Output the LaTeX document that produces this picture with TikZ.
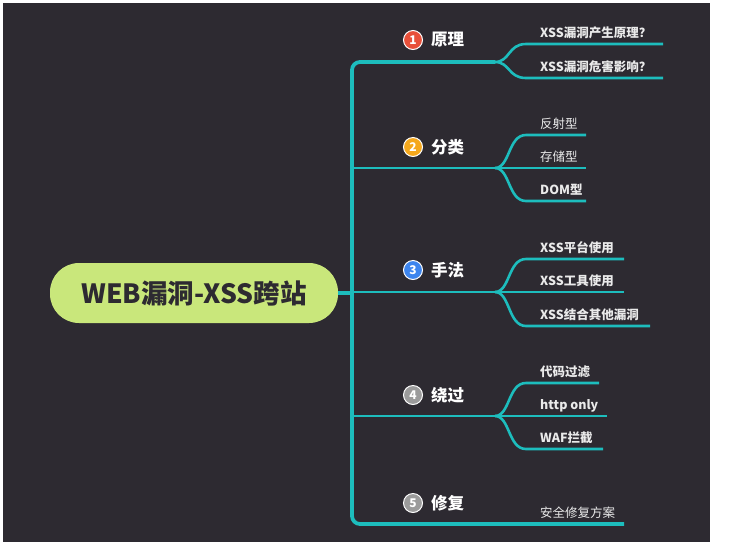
\documentclass[tikz,border=0pt]{standalone}
\usepackage{fontspec}
\setmainfont{Noto Sans CJK SC}
\definecolor{bg}{HTML}{2D2A31}
\definecolor{branch}{HTML}{1DBDBD}
\definecolor{pill}{HTML}{C9E77B}
\definecolor{numred}{HTML}{E8503A}
\definecolor{numorange}{HTML}{F5A81C}
\definecolor{numblue}{HTML}{3D85EE}
\definecolor{numgrey}{HTML}{9B9B9B}
\definecolor{subtext}{HTML}{EAEAEA}

\begin{document}
\begin{tikzpicture}[x=1pt,y=-1pt,
  trunk/.style={draw=branch,line width=3.8pt,rounded corners=8pt},
  twig/.style={draw=branch,line width=2.6pt},
  topic/.style={anchor=west,inner sep=0pt,text=white,font=\bfseries\fontsize{16.5}{16.5}\selectfont},
  num/.style={circle,draw=white,line width=1pt,minimum size=19pt,inner sep=0pt,
    text=white,font=\bfseries\fontsize{12}{12}\selectfont},
  leaf/.style={anchor=base west,inner sep=0pt,text=subtext,font=\fontsize{12.5}{12.5}\selectfont},
  bleaf/.style={leaf,font=\bfseries\fontsize{12.5}{12.5}\selectfont}]
\fill[white] (0,0) rectangle (752,542);
\fill[bg] (3,3) rectangle (710,542);

% central topic
\node[fill=pill,rounded corners=29pt,minimum width=288pt,minimum height=60pt,
  text=bg,font=\bfseries\fontsize{26.5}{26.5}\selectfont] (root) at (194,293) {WEB漏洞-XSS跨站};

% trunk
\coordinate (top) at (352,62);
\coordinate (bot) at (352,524);
\coordinate (s1) at (495,62);
\coordinate (s2) at (495,168);
\coordinate (s3) at (495,292);
\coordinate (s4) at (495,416);
\coordinate (e5) at (624,524);
\draw[trunk] (s1) -- (top) -- (bot) -- (e5);
\draw[trunk] (root.east) -- (root.east -| top);
\draw[twig] (s2 -| top) -- (s2);
\draw[twig] (s3 -| top) -- (s3);
\draw[twig] (s4 -| top) -- (s4);

% topics
\node[num,fill=numred] (n1) at (413,40) {1};
\node[topic] (b1) at (431,40) {原理};
\node[num,fill=numorange] (n2) at (413,147) {2};
\node[topic] (b2) at (431,147) {分类};
\node[num,fill=numblue] (n3) at (413,270) {3};
\node[topic] (b3) at (431,270) {手法};
\node[num,fill=numgrey] (n4) at (413,395) {4};
\node[topic] (b4) at (431,395) {绕过};
\node[num,fill=numgrey] (n5) at (413,503) {5};
\node[topic] (b5) at (431,503) {修复};

% 原理
\coordinate (e11) at (663,44);
\coordinate (e12) at (663,78);
\draw[twig] (s1) .. controls (510,62) and (508,44) .. (526,44) -- (e11);
\draw[twig] (s1) .. controls (510,62) and (508,78) .. (526,78) -- (e12);
\node[bleaf] (t11) at (540,37) {XSS漏洞产生原理？};
\node[bleaf] (t12) at (540,71) {XSS漏洞危害影响？};

% 分类
\coordinate (e21) at (586,135);
\coordinate (e22) at (586,168);
\coordinate (e23) at (586,201);
\draw[twig] (s2) .. controls (510,168) and (508,135) .. (526,135) -- (e21);
\draw[twig] (s2) -- (e22);
\draw[twig] (s2) .. controls (510,168) and (508,201) .. (526,201) -- (e23);
\node[leaf] (t21) at (540,128) {反射型};
\node[leaf] (t22) at (540,161) {存储型};
\node[bleaf] (t23) at (540,194) {DOM型};

% 手法
\coordinate (e31) at (624,259);
\coordinate (e32) at (624,292);
\coordinate (e33) at (650,326);
\draw[twig] (s3) .. controls (510,292) and (508,259) .. (526,259) -- (e31);
\draw[twig] (s3) -- (e32);
\draw[twig] (s3) .. controls (510,292) and (508,326) .. (526,326) -- (e33);
\node[bleaf] (t31) at (540,252) {XSS平台使用};
\node[bleaf] (t32) at (540,285) {XSS工具使用};
\node[bleaf] (t33) at (540,319) {XSS结合其他漏洞};

% 绕过
\coordinate (e41) at (599,383);
\coordinate (e42) at (607,416);
\coordinate (e43) at (603,449);
\draw[twig] (s4) .. controls (510,416) and (508,383) .. (526,383) -- (e41);
\draw[twig] (s4) -- (e42);
\draw[twig] (s4) .. controls (510,416) and (508,449) .. (526,449) -- (e43);
\node[bleaf] (t41) at (540,376) {代码过滤};
\node[bleaf] (t42) at (540,409) {http only};
\node[bleaf] (t43) at (540,442) {WAF拦截};

% 修复
\node[leaf] (t51) at (540,517) {安全修复方案};
\end{tikzpicture}
\end{document}
